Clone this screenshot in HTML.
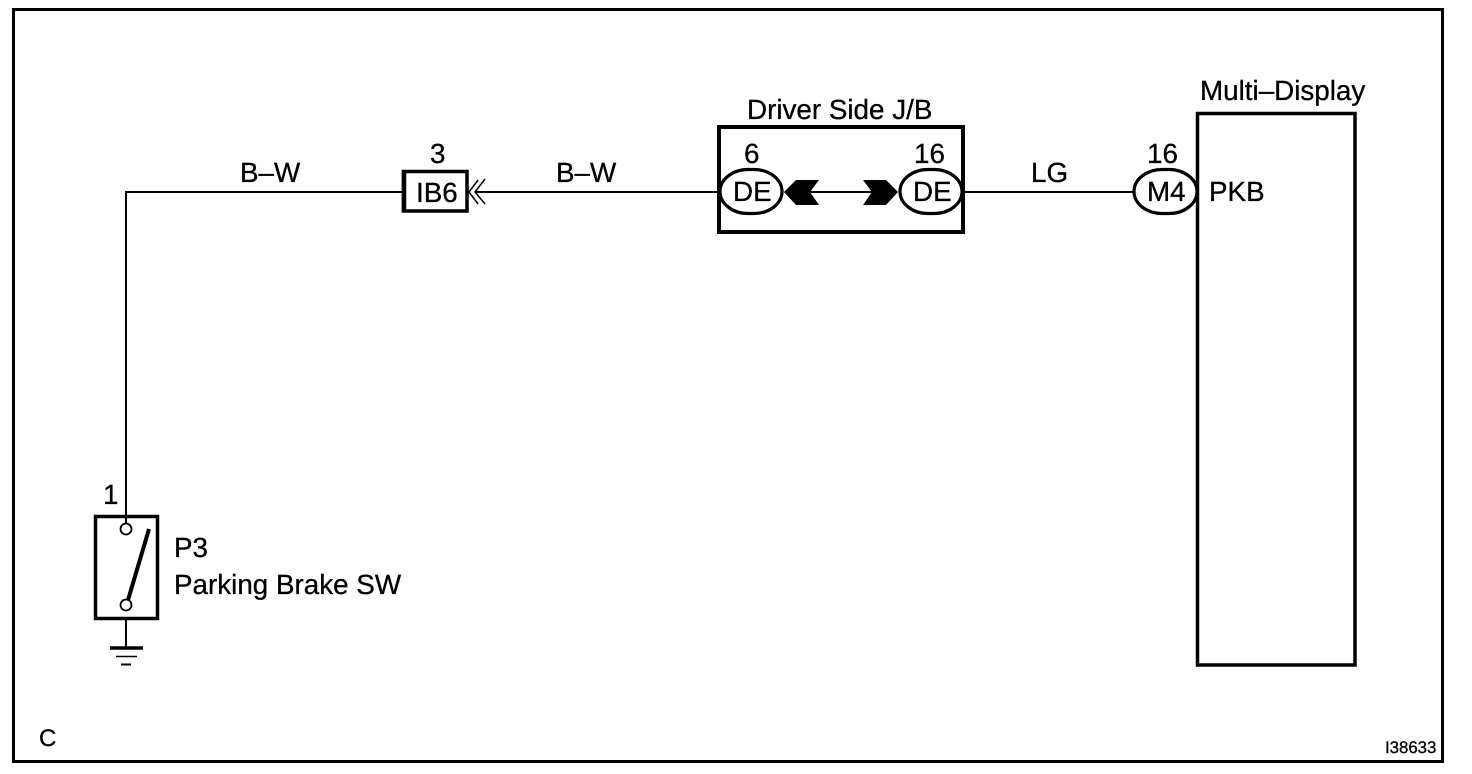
<!DOCTYPE html>
<html>
<head>
<meta charset="utf-8">
<style>
html,body{margin:0;padding:0;background:#fff;width:1472px;height:774px;overflow:hidden}
svg{display:block}
text{font-family:"Liberation Sans",Arial,sans-serif;font-size:27.8px;fill:#000;stroke:#000;stroke-width:.3px;text-rendering:geometricPrecision}
</style>
</head>
<body>
<svg width="1472" height="774" viewBox="0 0 1472 774" xmlns="http://www.w3.org/2000/svg">
<rect width="1472" height="774" fill="#fff"/>
<rect x="13.5" y="9.5" width="1429" height="752" fill="none" stroke="#000" stroke-width="3"/>

<!-- wires -->
<path d="M126 515V192H403" fill="none" stroke="#000" stroke-width="2"/>
<path d="M476 192H719" fill="none" stroke="#000" stroke-width="2"/>
<path d="M800 192H880" fill="none" stroke="#000" stroke-width="2"/>
<path d="M963 192H1134" fill="none" stroke="#000" stroke-width="2"/>
<path d="M126 619V648" fill="none" stroke="#000" stroke-width="2"/>

<!-- IB6 -->
<rect x="403.500" y="171.500" width="63.500" height="39.500" fill="#fff" stroke="#000" stroke-width="3.500"/>
<path d="M404 170V212" stroke="#000" stroke-width="4.500"/>
<path d="M478 180L469 192L478 204M485 179L475 192L485 204" fill="none" stroke="#000" stroke-width="1.500"/>

<!-- J/B -->
<rect x="719" y="127" width="244" height="105" fill="none" stroke="#000" stroke-width="4"/>
<rect x="720" y="169.500" width="62" height="44" rx="28" ry="22" fill="#fff" stroke="#000" stroke-width="3.200"/>
<rect x="900" y="169.500" width="62" height="44" rx="28" ry="22" fill="#fff" stroke="#000" stroke-width="3.200"/>
<path d="M784 192L796 180H819L810 192L819 205H796Z" fill="#000"/>
<path d="M898 192L886 180H863L872 192L863 205H886Z" fill="#000"/>

<!-- Multi-display -->
<rect x="1197.500" y="113.500" width="157.500" height="551.500" fill="#fff" stroke="#000" stroke-width="3.500"/>
<rect x="1134" y="169.500" width="63" height="44" rx="28" ry="22" fill="#fff" stroke="#000" stroke-width="3.200"/>

<!-- switch -->
<rect x="95.500" y="516.500" width="62" height="102" fill="#fff" stroke="#000" stroke-width="3.500"/>
<path d="M126 515V524" stroke="#000" stroke-width="2"/>
<circle cx="126" cy="529" r="5.500" fill="#fff" stroke="#000" stroke-width="1.800"/>
<path d="M149 529L128 600" stroke="#000" stroke-width="4"/>
<circle cx="126" cy="605" r="5.500" fill="#fff" stroke="#000" stroke-width="1.800"/>

<!-- ground -->
<path d="M110 648H143" stroke="#000" stroke-width="3.500"/>
<path d="M116 656.500H137" stroke="#000" stroke-width="1.500"/>
<path d="M121 664.500H131" stroke="#000" stroke-width="2"/>

<!-- labels -->
<text x="240" y="182">B–W</text>
<text x="556" y="182">B–W</text>
<text x="1031" y="182">LG</text>
<text x="430" y="163">3</text>
<text x="416" y="202">IB6</text>
<text x="747" y="119">Driver Side J/B</text>
<text x="744" y="163">6</text>
<text x="914" y="163">16</text>
<text x="733" y="201">DE</text>
<text x="913" y="201">DE</text>
<text x="1147" y="163">16</text>
<text x="1147" y="201">M4</text>
<text x="1209" y="201">PKB</text>
<text x="1200" y="100">Multi–Display</text>
<text x="103" y="504">1</text>
<text x="174" y="557">P3</text>
<text x="174" y="594">Parking Brake SW</text>
<text x="39" y="746" style="font-size:24px">C</text>
<text x="1385" y="753" style="font-size:16.800px">I38633</text>
</svg>
</body>
</html>
